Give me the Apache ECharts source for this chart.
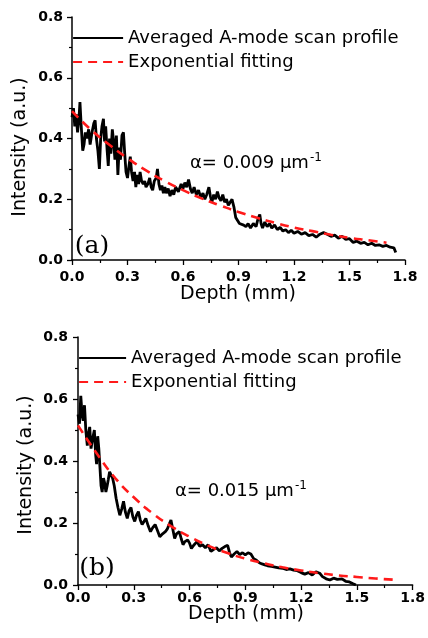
<!DOCTYPE html>
<html>
<head>
<meta charset="utf-8">
<script src="https://cdn.jsdelivr.net/npm/echarts@6/dist/echarts.min.js"></script>
<style>html,body{margin:0;padding:0;background:#fff}#c{width:428px;height:638px}</style>
</head>
<body>
<div id="c"></div>
<script>
// Panel (a) averaged A-mode scan profile
var depthA = [0.000,0.008,0.015,0.022,0.030,0.038,0.043,0.050,0.058,0.065,0.072,0.080,0.090,0.098,0.108,0.118,0.125,0.132,0.140,0.148,0.155,0.162,0.170,0.176,0.182,0.190,0.196,0.203,0.210,0.218,0.225,0.232,0.240,0.248,0.255,0.262,0.270,0.278,0.285,0.292,0.300,0.308,0.315,0.322,0.330,0.338,0.345,0.352,0.360,0.368,0.376,0.385,0.393,0.400,0.410,0.420,0.428,0.436,0.445,0.455,0.462,0.470,0.478,0.486,0.494,0.502,0.510,0.520,0.530,0.540,0.550,0.560,0.575,0.590,0.600,0.610,0.620,0.630,0.640,0.650,0.660,0.672,0.684,0.696,0.708,0.718,0.728,0.740,0.748,0.756,0.766,0.776,0.786,0.795,0.805,0.815,0.825,0.835,0.845,0.855,0.865,0.875,0.885,0.895,0.905,0.915,0.928,0.940,0.952,0.965,0.980,0.995,1.005,1.015,1.022,1.030,1.042,1.055,1.068,1.080,1.095,1.110,1.125,1.140,1.155,1.170,1.185,1.200,1.220,1.240,1.260,1.280,1.300,1.320,1.340,1.360,1.380,1.400,1.420,1.440,1.460,1.480,1.500,1.520,1.540,1.560,1.580,1.600,1.620,1.640,1.660,1.680,1.700,1.720,1.740,1.750];
var intensityA = [0.47,0.50,0.44,0.48,0.42,0.47,0.52,0.44,0.36,0.38,0.42,0.40,0.43,0.38,0.42,0.45,0.46,0.40,0.36,0.30,0.40,0.44,0.465,0.39,0.44,0.36,0.31,0.40,0.35,0.43,0.39,0.33,0.41,0.28,0.37,0.33,0.41,0.42,0.35,0.29,0.27,0.31,0.34,0.29,0.26,0.29,0.24,0.28,0.25,0.29,0.26,0.25,0.26,0.24,0.25,0.27,0.24,0.23,0.26,0.27,0.30,0.25,0.23,0.245,0.22,0.24,0.22,0.235,0.21,0.23,0.215,0.24,0.225,0.25,0.235,0.255,0.24,0.265,0.235,0.22,0.24,0.215,0.23,0.205,0.22,0.20,0.215,0.24,0.21,0.19,0.215,0.20,0.225,0.205,0.195,0.215,0.19,0.20,0.18,0.19,0.20,0.175,0.14,0.13,0.12,0.125,0.115,0.11,0.12,0.105,0.12,0.11,0.135,0.15,0.12,0.105,0.125,0.11,0.12,0.105,0.115,0.10,0.108,0.095,0.10,0.09,0.098,0.088,0.094,0.085,0.09,0.08,0.084,0.075,0.085,0.09,0.085,0.078,0.082,0.072,0.078,0.068,0.07,0.058,0.062,0.055,0.058,0.05,0.055,0.048,0.05,0.045,0.048,0.042,0.04,0.025];
var fitDepthA = [0,0.1,0.2,0.3,0.4,0.5,0.6,0.7,0.8,0.9,1.0,1.1,1.2,1.3,1.4,1.5,1.6,1.7];
var fitA = [0.49,0.43,0.38,0.335,0.295,0.26,0.23,0.203,0.18,0.158,0.139,0.122,0.107,0.095,0.083,0.073,0.065,0.057];

// Panel (b)
var depthB = [0.000,0.008,0.015,0.022,0.028,0.035,0.042,0.050,0.057,0.063,0.070,0.078,0.088,0.095,0.100,0.106,0.112,0.118,0.124,0.130,0.137,0.143,0.150,0.157,0.163,0.170,0.178,0.186,0.195,0.205,0.215,0.225,0.235,0.245,0.255,0.265,0.275,0.285,0.295,0.305,0.315,0.325,0.335,0.345,0.355,0.365,0.378,0.390,0.402,0.415,0.428,0.440,0.455,0.470,0.480,0.490,0.500,0.510,0.520,0.530,0.545,0.555,0.565,0.575,0.590,0.600,0.610,0.625,0.640,0.655,0.670,0.685,0.700,0.715,0.730,0.745,0.760,0.775,0.790,0.805,0.815,0.825,0.840,0.855,0.870,0.885,0.900,0.915,0.930,0.945,0.960,0.975,0.990,1.005,1.020,1.040,1.060,1.080,1.100,1.120,1.140,1.160,1.180,1.200,1.220,1.240,1.260,1.280,1.300,1.315,1.335,1.355,1.375,1.395,1.420,1.440,1.460,1.480,1.495];
var intensityB = [0.55,0.52,0.61,0.55,0.53,0.58,0.50,0.45,0.49,0.51,0.44,0.47,0.50,0.42,0.39,0.48,0.44,0.38,0.32,0.30,0.345,0.33,0.30,0.32,0.34,0.365,0.36,0.345,0.32,0.28,0.25,0.225,0.245,0.27,0.235,0.215,0.24,0.25,0.22,0.205,0.225,0.237,0.21,0.195,0.205,0.215,0.19,0.172,0.185,0.195,0.175,0.156,0.165,0.172,0.18,0.195,0.21,0.18,0.15,0.165,0.172,0.15,0.13,0.14,0.145,0.135,0.118,0.13,0.14,0.125,0.13,0.12,0.13,0.108,0.115,0.12,0.11,0.118,0.124,0.128,0.105,0.09,0.10,0.108,0.098,0.104,0.097,0.104,0.10,0.085,0.08,0.072,0.068,0.065,0.062,0.06,0.058,0.055,0.054,0.05,0.052,0.048,0.046,0.04,0.035,0.04,0.032,0.043,0.038,0.027,0.02,0.016,0.022,0.018,0.02,0.012,0.01,0.004,0.0];
var fitDepthB = [0,0.1,0.2,0.3,0.4,0.5,0.6,0.7,0.8,0.9,1.0,1.1,1.2,1.3,1.4,1.5,1.6,1.7];
var fitB = [0.515,0.425,0.345,0.283,0.232,0.19,0.156,0.127,0.104,0.085,0.07,0.057,0.047,0.038,0.031,0.026,0.021,0.017];

var seriesNames = ['Averaged A-mode scan profile', 'Exponential fitting'];
var alphaA = '0.009', alphaB = '0.015';

function pairs(xs, ys) { return xs.map(function (x, i) { return [x, ys[i]]; }); }

var FONT = 'DejaVu Sans';
function xAx(idx, margin) {
  return {
    type: 'value', gridIndex: idx, min: 0, max: 1.8, interval: 0.3,
    axisLine: { show: true, onZero: false, lineStyle: { color: '#000', width: 1.5 } },
    axisTick: { show: true, length: 5, lineStyle: { color: '#000', width: 1.3 } },
    minorTick: { show: true, splitNumber: 2, length: 3, lineStyle: { color: '#000', width: 1.2 } },
    splitLine: { show: false },
    axisLabel: { color: '#000', fontFamily: FONT, fontWeight: 'bold', fontSize: 14, margin: margin,
      formatter: function (v) { return v.toFixed(1); } }
  };
}
function yAx(idx, margin) {
  return {
    type: 'value', gridIndex: idx, min: 0, max: 0.8, interval: 0.2,
    axisLine: { show: true, onZero: false, lineStyle: { color: '#000', width: 1.5 } },
    axisTick: { show: true, length: 5, lineStyle: { color: '#000', width: 1.3 } },
    minorTick: { show: true, splitNumber: 2, length: 3, lineStyle: { color: '#000', width: 1.2 } },
    splitLine: { show: false },
    axisLabel: { color: '#000', fontFamily: FONT, fontWeight: 'bold', fontSize: 14, margin: margin,
      formatter: function (v) { return v.toFixed(1); } }
  };
}
function dataSeries(idx, xs, ys) {
  return { name: seriesNames[0], type: 'line', xAxisIndex: idx, yAxisIndex: idx, data: pairs(xs, ys),
    showSymbol: false, symbol: 'none', animation: false, z: 2,
    lineStyle: { color: '#000', width: 2.8 }, itemStyle: { color: '#000' } };
}
function fitSeries(idx, xs, ys) {
  return { name: seriesNames[1], type: 'line', xAxisIndex: idx, yAxisIndex: idx, data: pairs(xs, ys),
    showSymbol: false, symbol: 'none', smooth: true, animation: false, z: 3,
    lineStyle: { color: '#ff1a1a', width: 2.6, type: [9, 6] }, itemStyle: { color: '#ff1a1a' } };
}
function legend(left, top, w) {
  return { orient: 'vertical', left: left, top: top, padding: 0, itemWidth: w, itemHeight: 14, itemGap: 4,
    data: seriesNames, selectedMode: false,
    itemStyle: { color: 'transparent', borderWidth: 0, opacity: 0 },
    lineStyle: { width: 2.2 },
    textStyle: { fontFamily: FONT, fontSize: 18, color: '#000', lineHeight: 20 } };
}
function txt(x, y, text, size, family, rot) {
  return { type: 'text', x: x, y: y, rotation: rot || 0,
    style: { text: text, fontSize: size, fontFamily: family, fill: '#000', align: 'center', verticalAlign: 'middle' } };
}
function alphaTxt(x, y, val) {
  return { type: 'text', x: x, y: y,
    style: { text: '{a|\u03B1= ' + val + ' \u03BCm}{s|-1}', align: 'left', verticalAlign: 'middle',
      rich: { a: { fontSize: 18, fontFamily: FONT, fill: '#000', color: '#000' },
              s: { fontSize: 12, fontFamily: FONT, color: '#000', padding: [0, 0, 10, 1] } } } };
}

var chart = echarts.init(document.getElementById('c'), null, { renderer: 'canvas' });
chart.setOption({
  backgroundColor: '#fff',
  animation: false,
  grid: [
    { left: 72, top: 17, width: 333, height: 243 },
    { left: 78, top: 337, width: 337, height: 248 }
  ],
  xAxis: [xAx(0, 10), xAx(1, 6)],
  yAxis: [yAx(0, 9), yAx(1, 10)],
  legend: [legend(72, 28, 50), legend(78, 348, 47)],
  series: [
    dataSeries(0, depthA, intensityA), fitSeries(0, fitDepthA, fitA),
    dataSeries(1, depthB, intensityB), fitSeries(1, fitDepthB, fitB)
  ],
  graphic: [
    txt(20, 147, 'Intensity (a.u.)', 19, FONT, Math.PI / 2),
    txt(238, 294, 'Depth (mm)', 19, FONT),
    txt(26, 465, 'Intensity (a.u.)', 19, FONT, Math.PI / 2),
    txt(246, 614, 'Depth (mm)', 19, FONT),
    txt(92, 246, '(a)', 25, 'DejaVu Serif'),
    txt(97, 568, '(b)', 25, 'DejaVu Serif'),
    alphaTxt(190, 163, alphaA),
    alphaTxt(175, 491, alphaB)
  ]
});
</script>
</body>
</html>
